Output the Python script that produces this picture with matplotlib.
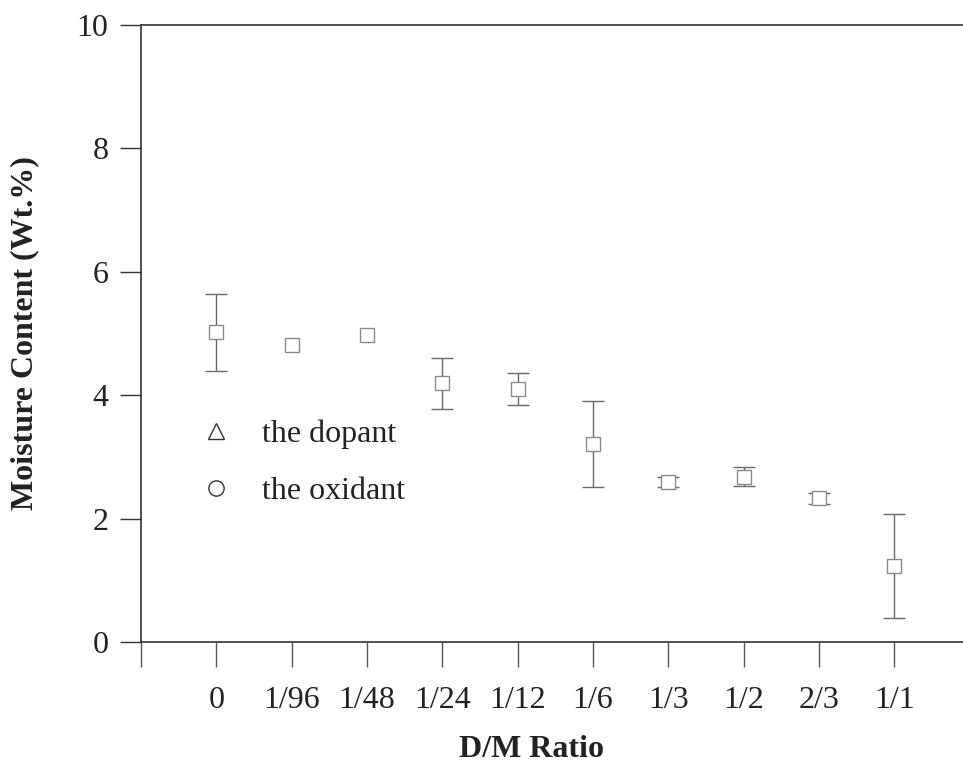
import matplotlib
matplotlib.use("Agg")
import matplotlib.pyplot as plt
from matplotlib.lines import Line2D

categories = ["0", "1/96", "1/48", "1/24", "1/12", "1/6", "1/3", "1/2", "2/3", "1/1"]
moisture = [5.02, 4.82, 4.98, 4.19, 4.10, 3.21, 2.60, 2.68, 2.33, 1.23]
errors = [0.62, 0.0, 0.0, 0.41, 0.26, 0.70, 0.08, 0.15, 0.09, 0.84]
yticks = [0, 2, 4, 6, 8, 10]
legend_labels = ["the dopant", "the oxidant"]

plt.rcParams['font.family'] = ['Liberation Serif', 'DejaVu Serif']

fig = plt.figure(figsize=(9.63, 7.72), dpi=100)
ax = fig.add_axes([141/963, 1-642/772, 1-141/963, (642-25)/772])

xs = list(range(len(categories)))
ex = [x for x, e in zip(xs, errors) if e > 0]
ey = [m for m, e in zip(moisture, errors) if e > 0]
ee = [e for e in errors if e > 0]
ax.errorbar(ex, ey, yerr=ee, fmt='none', ecolor='#6a6a6a', elinewidth=1.0,
            capsize=8, capthick=1.0, zorder=2)
ax.plot(xs, moisture, 's', ls='none', mfc='white', mec='#8a8a8a', ms=10.5, mew=1.0, zorder=3)

ax.set_xlim(-1, 9.91)
ax.set_ylim(0, 10)
ax.set_yticks(yticks)
ax.set_yticklabels([str(t) for t in yticks])
ax.set_xticks([-1] + xs)
ax.set_xticklabels([""] + categories)

ax.spines['right'].set_visible(False)
for side in ['left', 'bottom', 'top']:
    ax.spines[side].set_color('#333333')
    ax.spines[side].set_linewidth(1.2)

ax.tick_params(axis='y', direction='out', length=15, width=1.0, color='#333333',
               labelsize=23, pad=8.5, labelcolor='#222222')
ax.tick_params(axis='x', direction='out', length=18, width=1.0, color='#555555',
               labelsize=23, pad=14, labelcolor='#222222')

ax.set_ylabel("Moisture Content (Wt.%)", fontsize=23, fontweight='bold', color='#222222')
ax.yaxis.set_label_coords(-0.124, 0.5)
ax.set_xlabel("D/M Ratio", fontsize=23, fontweight='bold', color='#222222')
ax.xaxis.set_label_coords(0.475, -0.15)

handles = [Line2D([], [], marker='^', ls='none', mfc='white', mec='#333333', ms=11, mew=1.0),
           Line2D([], [], marker='o', ls='none', mfc='white', mec='#333333', ms=11, mew=1.0)]
ax.legend(handles, legend_labels, loc='center left', bbox_to_anchor=(0.018, 0.29),
          frameon=False, fontsize=23, handletextpad=0.42, labelspacing=0.875,
          labelcolor='#222222')

fig.savefig("out.png", dpi=100)
